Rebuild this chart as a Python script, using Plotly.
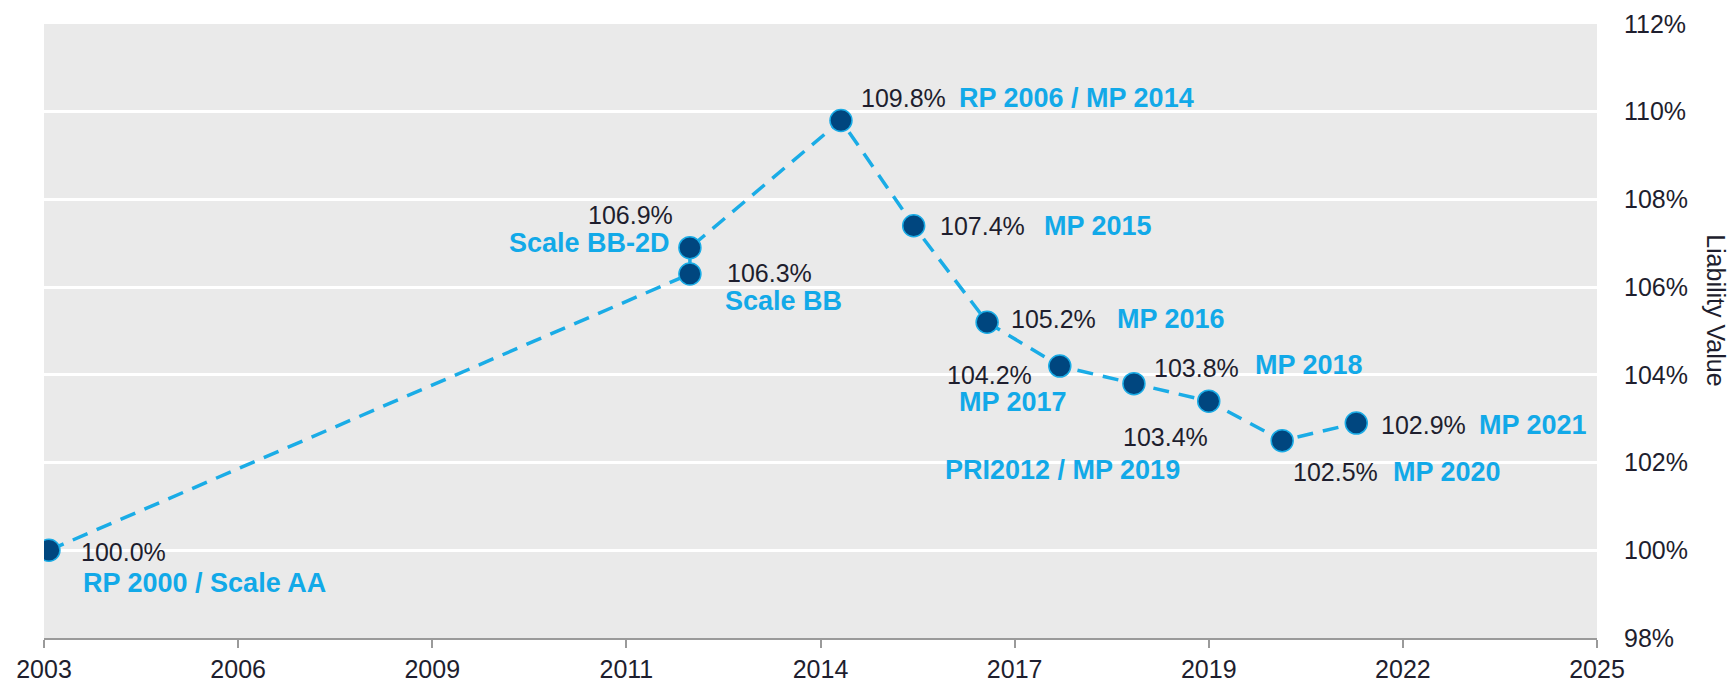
import plotly.graph_objects as go

# ---- data ----
x_years = [2003.07, 2012.15, 2012.15, 2014.29, 2015.32, 2016.36, 2017.39, 2018.44, 2019.50, 2020.54, 2021.59]
values = [100.0, 106.3, 106.9, 109.8, 107.4, 105.2, 104.2, 103.8, 103.4, 102.5, 102.9]
names = ["RP 2000 / Scale AA", "Scale BB", "Scale BB-2D", "RP 2006 / MP 2014", "MP 2015",
         "MP 2016", "MP 2017", "MP 2018", "PRI2012 / MP 2019", "MP 2020", "MP 2021"]
x_tick_vals = [2003, 2005.75, 2008.5, 2011.25, 2014, 2016.75, 2019.5, 2022.25, 2025]
x_tick_text = ["2003", "2006", "2009", "2011", "2014", "2017", "2019", "2022", "2025"]
y_tick_vals = [98, 100, 102, 104, 106, 108, 110, 112]
y_tick_text = ["98%", "100%", "102%", "104%", "106%", "108%", "110%", "112%"]

# ---- label placement (pixel offsets from each marker) ----
# (xshift, yshift, xanchor) for value label, then for name label
val_pos = [(30, -2, "left"), (35, 1, "left"), (-15, 33, "right"), (18, 22, "left"),
           (24, 0, "left"), (22, 3, "left"), (-26, -9, "right"), (18, 16, "left"),
           (-43, -36, "center"), (9, -31, "left"), (23, -2, "left")]
name_pos = [(32, -33, "left"), (33, -27, "left"), (-18, 5, "right"), (116, 22, "left"),
            (128, 0, "left"), (128, 3, "left"), (-47, -36, "center"), (119, 19, "left"),
            (-146, -69, "center"), (109, -31, "left"), (121, -2, "left")]

FONT = "Arial, Liberation Sans, sans-serif"
LINE_COLOR = "#1AACE6"
NAME_COLOR = "#12A9E8"
MARKER_COLOR = "#00467F"
TEXT_COLOR = "#1E1E2E"

fig = go.Figure()
fig.add_trace(go.Scatter(
    x=x_years, y=values, mode="lines+markers",
    line=dict(color=LINE_COLOR, width=3.5, dash="16px,10px"),
    marker=dict(size=22, color=MARKER_COLOR, line=dict(color=LINE_COLOR, width=1.5)),
    showlegend=False, hoverinfo="skip",
))

annotations = []
for xv, yv, nm, vp, npos in zip(x_years, values, names, val_pos, name_pos):
    annotations.append(dict(
        x=xv, y=yv, xref="x", yref="y", text=f"{yv:.1f}%", showarrow=False,
        xanchor=vp[2], yanchor="middle", xshift=vp[0], yshift=vp[1],
        font=dict(family=FONT, size=25, color=TEXT_COLOR),
    ))
    annotations.append(dict(
        x=xv, y=yv, xref="x", yref="y", text=f"<b>{nm}</b>", showarrow=False,
        xanchor=npos[2], yanchor="middle", xshift=npos[0], yshift=npos[1],
        font=dict(family=FONT, size=27, color=NAME_COLOR),
    ))

annotations.append(dict(
    x=1.0766, y=0.534, xref="paper", yref="paper", text="Liability Value",
    showarrow=False, textangle=90, xanchor="center", yanchor="middle",
    font=dict(family=FONT, size=25, color=TEXT_COLOR),
))

# the page body has an 8px margin, so the figure is sized/offset to compensate
fig.update_layout(
    width=1727, height=675,
    margin=dict(l=36, r=138, t=16, b=45),
    paper_bgcolor="white", plot_bgcolor="#EAEAEA",
    font=dict(family=FONT, size=25, color=TEXT_COLOR),
    annotations=annotations,
    xaxis=dict(
        range=[2003, 2025], tickvals=x_tick_vals, ticktext=x_tick_text,
        showgrid=False, zeroline=False, showline=True, linecolor="#9A9A9A", linewidth=2,
        ticks="outside", ticklen=8, tickcolor="#9A9A9A", tickwidth=1.5,
        tickfont=dict(family=FONT, size=25, color=TEXT_COLOR), automargin=False,
    ),
    yaxis=dict(
        range=[98, 112], side="right", tickvals=y_tick_vals, ticktext=y_tick_text,
        showgrid=True, gridcolor="white", gridwidth=2.5, zeroline=False, showline=False,
        ticks="", ticklabelstandoff=26, automargin=False,
        tickfont=dict(family=FONT, size=25, color=TEXT_COLOR),
    ),
)

fig.write_html("out.html")
